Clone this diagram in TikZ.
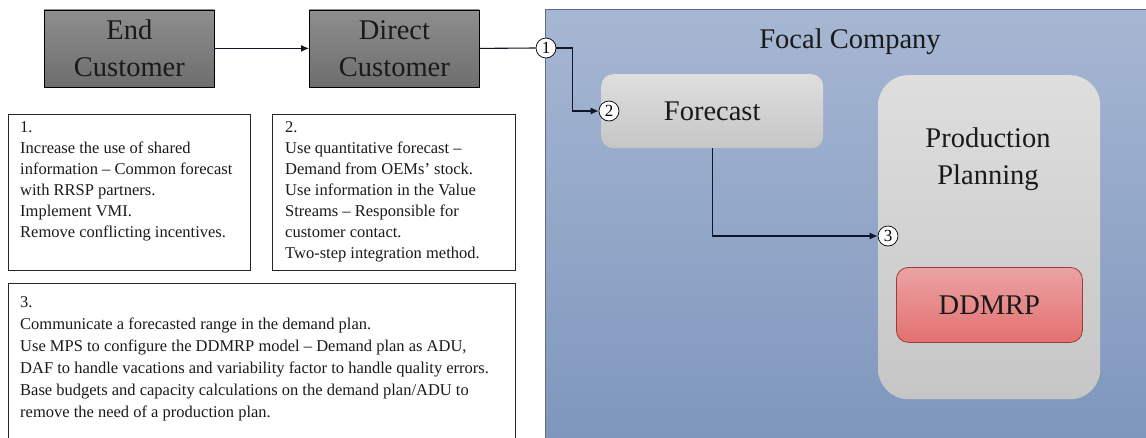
\documentclass[tikz,border=0pt]{standalone}
\usepackage{fontspec}
\setmainfont{Liberation Serif}
\usetikzlibrary{arrows.meta}

\definecolor{inkdark}{HTML}{1A1A1A}
\definecolor{custtop}{HTML}{8E8E8E}
\definecolor{custbot}{HTML}{6E6E6E}
\definecolor{paneltop}{HTML}{A6B7D3}
\definecolor{panelbot}{HTML}{7D95BC}
\definecolor{paneledge}{HTML}{5F6E85}
\definecolor{softtop}{HTML}{DEDEDE}
\definecolor{softbot}{HTML}{C6C6C6}
\definecolor{redtop}{HTML}{EBA3A3}
\definecolor{redbot}{HTML}{E37070}
\definecolor{rededge}{HTML}{9B3B3B}
\definecolor{wire}{HTML}{10152A}

\newcommand{\lblfont}{\fontsize{28.5}{37}\selectfont}
\newcommand{\notefont}{\fontsize{16.5}{21}\selectfont}
\newcommand{\widenotefont}{\fontsize{16.5}{22}\selectfont}
\newcommand{\numfont}{\fontsize{17}{17}\selectfont}

\begin{document}
\begin{tikzpicture}[x=1pt,y=-1pt,
  custbox/.style={draw=black, line width=0.8pt, top color=custtop, bottom color=custbot,
    minimum width=170pt, minimum height=77pt, inner sep=0pt, align=center,
    font=\lblfont, text=inkdark, anchor=north west},
  notebox/.style={draw=black!85, line width=0.8pt, fill=white, inner sep=0pt, anchor=north west},
  notetext/.style={inner sep=0pt, align=left, anchor=north west, font=\notefont, text=inkdark},
  softbox/.style={top color=softtop, bottom color=softbot, inner sep=0pt, anchor=north west},
  lbl/.style={font=\lblfont, text=inkdark, align=center, inner sep=0pt},
  num/.style={circle, draw=black, line width=0.7pt, fill=white, minimum size=20pt,
    inner sep=0pt, font=\numfont},
  conn/.style={draw=wire, line width=1.1pt},
  arr/.style={conn, -{Latex[length=8pt,width=7pt]}}
]
\useasboundingbox (0,0) rectangle (1146,437);
\clip (0,0) rectangle (1146,437);
\fill[white] (0,0) rectangle (1146,437);

% supply chain partners
\node[custbox] (ec) at (44,9.5) {End\\Customer};
\node[custbox] (dc) at (309,9.5) {Direct\\Customer};

% improvement notes
\node[notebox, minimum width=242pt, minimum height=156pt] (n1) at (8,114) {};
\node[notetext] (t1) at (20,121) {1.\\Increase the use of shared\\information – Common forecast\\with RRSP partners.\\Implement VMI.\\Remove conflicting incentives.};
\node[notebox, minimum width=243pt, minimum height=156pt] (n2) at (272,114) {};
\node[notetext] (t2) at (285,121) {2.\\Use quantitative forecast –\\Demand from OEMs’ stock.\\Use information in the Value\\Streams – Responsible for\\customer contact.\\Two-step integration method.};
\node[notebox, minimum width=507pt, minimum height=180pt] (n3) at (8,283) {};
\node[notetext, font=\widenotefont] (t3) at (20,296) {3.\\Communicate a forecasted range in the demand plan.\\Use MPS to configure the DDMRP model – Demand plan as ADU,\\DAF to handle vacations and variability factor to handle quality errors.\\Base budgets and capacity calculations on the demand plan/ADU to\\remove the need of a production plan.};

% focal company
\node[anchor=north west, draw=paneledge, line width=0.8pt, top color=paneltop, bottom color=panelbot,
  minimum width=620pt, minimum height=450pt, inner sep=0pt] (fcomp) at (545,9) {};
\node[lbl] (ftitle) at (850,42) {Focal Company};

\node[softbox, rounded corners=12pt, minimum width=222pt, minimum height=74pt, font=\lblfont, text=inkdark] (fc) at (601,74) {Forecast};
\node[softbox, rounded corners=30pt, minimum width=222pt, minimum height=324pt] (pp) at (878,75) {};
\node[lbl] (pptxt) at (988,159) {Production\\Planning};
\node[anchor=north west, draw=rededge, line width=0.8pt, top color=redtop, bottom color=redbot,
  rounded corners=12pt, minimum width=186pt, minimum height=75pt, inner sep=0pt,
  font=\lblfont, text=inkdark] (dd) at (896,267) {DDMRP};

% hand-over points
\node[num] (c1) at (546,48) {1};
\node[num] (c2) at (609,111) {2};
\node[num] (c3) at (888,236) {3};

% flows
\draw[arr] (ec.east) -- (dc.west);
\draw[conn] (dc.east) -- (c1.west);
\draw[arr] (c1.east) -- ++(16,0) |- (c2.west);
\draw[arr] (fc.south) |- (c3.west);
\end{tikzpicture}
\end{document}
